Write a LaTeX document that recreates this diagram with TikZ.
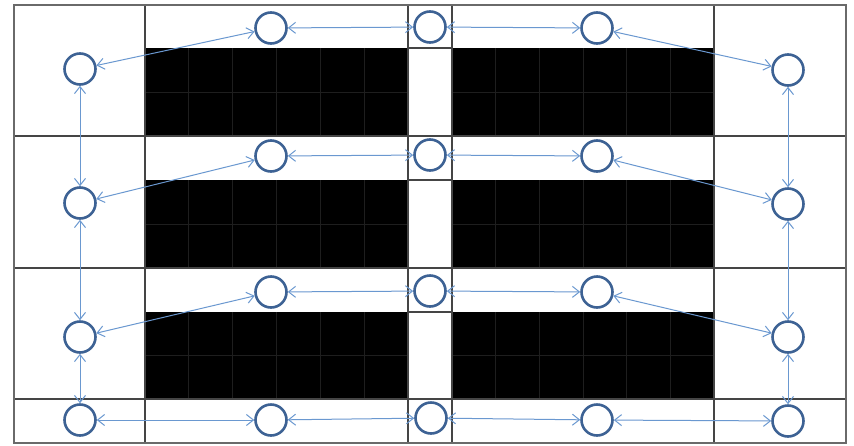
\documentclass[tikz,border=0pt]{standalone}
\usetikzlibrary{arrows.meta}
\definecolor{ringc}{HTML}{3D6294}
\definecolor{arrc}{HTML}{6A98D0}
\definecolor{gridc}{HTML}{454545}
\definecolor{framec}{HTML}{6A6A6A}
\definecolor{innerc}{HTML}{1E1E1E}
\tikzset{
  ring/.style={circle,draw=ringc,line width=2.6pt,minimum size=31pt,inner sep=0pt,fill=white},
  link/.style={draw=arrc,line width=1pt,{Straight Barb[length=7pt,width=11pt]}-{Straight Barb[length=7pt,width=11pt]}},
  gridline/.style={draw=gridc,line width=1.1pt},
  blockline/.style={draw=innerc,line width=0.7pt}
}
\begin{document}
\begin{tikzpicture}[x=1pt,y=-1pt]
\useasboundingbox (0,0) rectangle (854,445);
\fill[white] (0,0) rectangle (854,445);
% black blocks
\foreach \yt/\yb in {48/136,180/268,312/399}{
  \foreach \xl/\xr in {145/408,452/714}{
    \fill[black] (\xl,\yt) rectangle (\xr,\yb);
    \pgfmathsetmacro{\w}{(\xr-\xl)/6}
    \foreach \k in {1,...,5}{
      \draw[blockline] ({\xl+\k*\w},\yt) -- ({\xl+\k*\w},\yb);
    }
    \draw[blockline] (\xl,{(\yt+\yb)/2}) -- (\xr,{(\yt+\yb)/2});
  }
}
% grid lines
\foreach \y in {136,268,399}{\draw[gridline] (14,\y) -- (846,\y);}
\foreach \x in {145,408,452,714}{\draw[gridline] (\x,5) -- (\x,443);}
\foreach \y in {48,180,312}{\draw[gridline] (408,\y) -- (452,\y);}
\draw[draw=framec,line width=1.6pt] (14,5) rectangle (846,443);
% nodes
\node[ring] (L1) at (80,69) {};
\node[ring] (L2) at (80,203) {};
\node[ring] (L3) at (80,337) {};
\node[ring] (L4) at (80,420) {};
\node[ring] (A1) at (271,28) {};
\node[ring] (A2) at (271,156) {};
\node[ring] (A3) at (271,292) {};
\node[ring] (A4) at (271,420) {};
\node[ring] (M1) at (430,27) {};
\node[ring] (M2) at (430,155) {};
\node[ring] (M3) at (430,291) {};
\node[ring] (M4) at (431,418) {};
\node[ring] (B1) at (597,28) {};
\node[ring] (B2) at (597,156) {};
\node[ring] (B3) at (597,292) {};
\node[ring] (B4) at (597,420) {};
\node[ring] (R1) at (788,70) {};
\node[ring] (R2) at (788,204) {};
\node[ring] (R3) at (788,337) {};
\node[ring] (R4) at (788,421) {};
% links
\foreach \i in {1,2,3,4}{
  \draw[link] (L\i) -- (A\i);
  \draw[link] (A\i) -- (M\i);
  \draw[link] (M\i) -- (B\i);
  \draw[link] (B\i) -- (R\i);
}
\draw[link] (L1) -- (L2);
\draw[link] (L2) -- (L3);
\draw[link] (L3) -- (L4);
\draw[link] (R1) -- (R2);
\draw[link] (R2) -- (R3);
\draw[link] (R3) -- (R4);
\end{tikzpicture}
\end{document}
